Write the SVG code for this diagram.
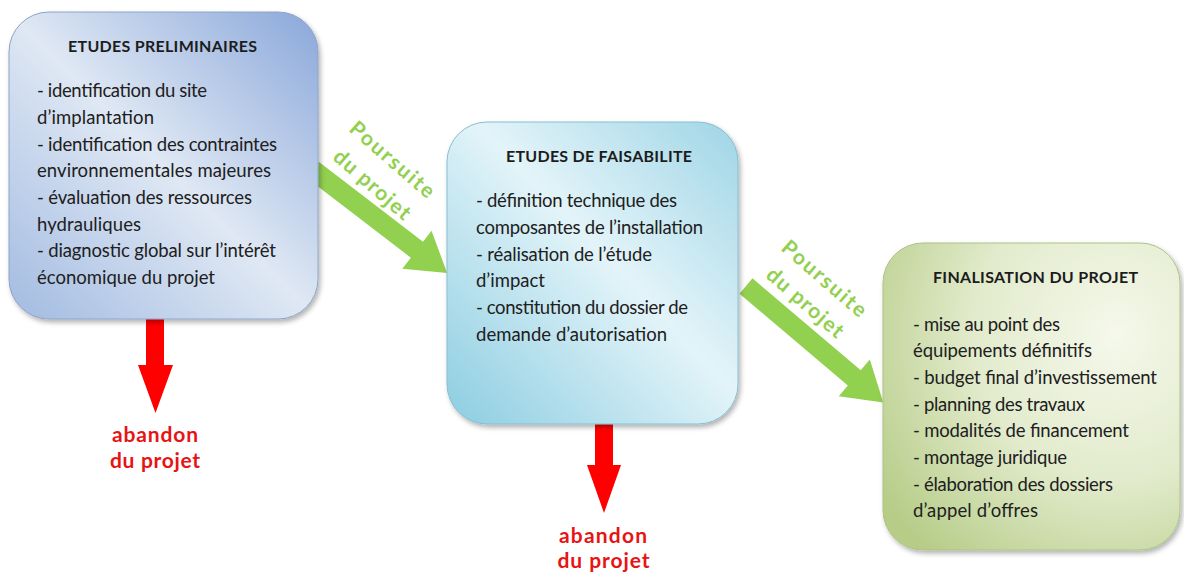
<svg xmlns="http://www.w3.org/2000/svg" width="1184" height="574" viewBox="0 0 1184 574">
<defs>
  <linearGradient id="g1" x1="1" y1="0" x2="0" y2="1">
    <stop offset="0" stop-color="#8aa7da"/>
    <stop offset="0.5" stop-color="#dfe8f4"/>
    <stop offset="1" stop-color="#a2bbe1"/>
  </linearGradient>
  <linearGradient id="g2" x1="1" y1="0" x2="0" y2="1">
    <stop offset="0" stop-color="#9fd5e6"/>
    <stop offset="0.45" stop-color="#e3f4f9"/>
    <stop offset="1" stop-color="#8ccde1"/>
  </linearGradient>
  <radialGradient id="g3" cx="0.78" cy="0.3" r="0.95">
    <stop offset="0" stop-color="#f5f8eb"/>
    <stop offset="0.5" stop-color="#e2ebcc"/>
    <stop offset="1" stop-color="#b6cc87"/>
  </radialGradient>
  <filter id="sh" x="-10%" y="-10%" width="120%" height="120%">
    <feDropShadow dx="2" dy="3" stdDeviation="2.5" flood-color="#000" flood-opacity="0.3"/>
  </filter>
</defs>
<style>
  .title { font-family: Lato, "Liberation Sans", sans-serif; font-weight: 700; font-size: 16px; fill: #1c1c1c; text-anchor: middle; }
  .body { font-family: Lato, "Liberation Sans", sans-serif; font-size: 18.5px; fill: #202020; }
  .go { font-family: Lato, "Liberation Sans", sans-serif; font-weight: 700; font-size: 21px; fill: #92d050; text-anchor: middle; }
  .stop { font-family: Lato, "Liberation Sans", sans-serif; font-weight: 700; font-size: 21px; fill: #e81414; text-anchor: middle; }
  .green { fill: #92d050; }
  .red { fill: #ff0000; }
</style>
<rect width="1184" height="574" fill="#ffffff"/>

<g id="connectors">
  <polygon class="green" transform="translate(313,170) rotate(37.5)" points="0,-10 131,-10 131,-24 169,0 131,24 131,10 0,10"/>
  <polygon class="green" transform="translate(746,286) rotate(40.3)" points="0,-10 142,-10 142,-24 180,0 142,24 142,10 0,10"/>
  <polygon class="red" points="146,305 164,305 164,365 173,365 155.5,413 138,365 146,365"/>
  <polygon class="red" points="595,415 613,415 613,465 621,465 604,513 587,465 595,465"/>
  <text class="go" transform="translate(387.5,165) rotate(41)" textLength="105">Poursuite</text>
  <text class="go" transform="translate(367.5,190) rotate(41)" textLength="95">du projet</text>
  <text class="go" transform="translate(819.5,284) rotate(41)" textLength="105">Poursuite</text>
  <text class="go" transform="translate(800.5,308) rotate(41)" textLength="95">du projet</text>
  <text class="stop" x="155" y="442" textLength="86">abandon</text>
  <text class="stop" x="155" y="468" textLength="90">du projet</text>
  <text class="stop" x="603" y="543" textLength="88">abandon</text>
  <text class="stop" x="603.5" y="568" textLength="92">du projet</text>
</g>

<g id="node-etudes-preliminaires">
  <rect x="9" y="12" width="309" height="307" rx="40" fill="url(#g1)" stroke="#8ea4c8" stroke-width="1" filter="url(#sh)"/>
  <text class="title" x="162.5" y="52" textLength="189">ETUDES PRELIMINAIRES</text>
  <text class="body" x="37" y="97" textLength="170">- identification du site</text>
  <text class="body" x="37" y="124" textLength="117">d’implantation</text>
  <text class="body" x="37" y="150.5" textLength="240">- identification des contraintes</text>
  <text class="body" x="37" y="177" textLength="234">environnementales majeures</text>
  <text class="body" x="37" y="204" textLength="215">- évaluation des ressources</text>
  <text class="body" x="37" y="230.5" textLength="104">hydrauliques</text>
  <text class="body" x="37" y="257" textLength="239">- diagnostic global sur l’intérêt</text>
  <text class="body" x="37" y="284" textLength="178">économique du projet</text>
</g>

<g id="node-etudes-faisabilite">
  <rect x="447" y="122" width="291" height="302" rx="40" fill="url(#g2)" stroke="#86bfd2" stroke-width="1" filter="url(#sh)"/>
  <text class="title" x="599" y="161.5" textLength="186">ETUDES DE FAISABILITE</text>
  <text class="body" x="476" y="207.3" textLength="201">- définition technique des</text>
  <text class="body" x="476" y="234" textLength="227">composantes de l’installation</text>
  <text class="body" x="476" y="260.7" textLength="176">- réalisation de l’étude</text>
  <text class="body" x="476" y="287.3" textLength="69">d’impact</text>
  <text class="body" x="476" y="314" textLength="212">- constitution du dossier de</text>
  <text class="body" x="476" y="340.7" textLength="191">demande d’autorisation</text>
</g>

<g id="node-finalisation">
  <rect x="883" y="243" width="297" height="307" rx="40" fill="url(#g3)" stroke="#adc285" stroke-width="1" filter="url(#sh)"/>
  <text class="title" x="1035.5" y="283" textLength="205">FINALISATION DU PROJET</text>
  <text class="body" x="913" y="330.7" textLength="147">- mise au point des</text>
  <text class="body" x="913" y="357.3" textLength="179">équipements définitifs</text>
  <text class="body" x="913" y="384" textLength="244">- budget final d’investissement</text>
  <text class="body" x="913" y="410.7" textLength="172">- planning des travaux</text>
  <text class="body" x="913" y="437.3" textLength="216">- modalités de financement</text>
  <text class="body" x="913" y="464" textLength="154">- montage juridique</text>
  <text class="body" x="913" y="490.7" textLength="200">- élaboration des dossiers</text>
  <text class="body" x="913" y="517.3" textLength="125">d’appel d’offres</text>
</g>
</svg>
